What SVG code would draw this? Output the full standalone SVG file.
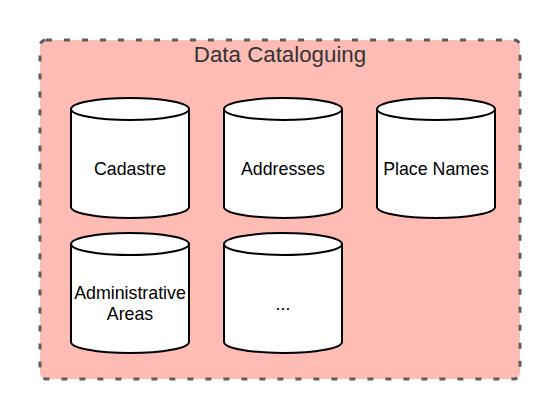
<svg xmlns="http://www.w3.org/2000/svg" width="560" height="420" viewBox="0 0 560 420">
<style>
.cyl{fill:#fff;stroke:#000;stroke-width:2}
.lbl{font-family:"Liberation Sans",Arial,sans-serif;font-size:17.8px;fill:#000;text-anchor:middle}
</style>
<defs>
<g id="cyl">
<path class="cyl" d="M0,11 A59,11 0 0 1 118,11 V109 A59,11 0 0 1 0,109 Z"/>
<path class="cyl" fill="none" d="M0,11 A59,11 0 0 0 118,11"/>
</g>
</defs>
<g id="container">
<rect x="40" y="40" width="480" height="339" rx="6" fill="#ffbcb5" stroke="#5f5f5f" stroke-width="3" stroke-dasharray="6 12"/>
<text x="280" y="62" font-family="Liberation Sans,Arial,sans-serif" font-size="22.3" fill="#333" text-anchor="middle">Data Cataloguing</text>
</g>
<g id="cadastre">
<use href="#cyl" x="71" y="98"/>
<text class="lbl" x="130" y="174.5">Cadastre</text>
</g>
<g id="addresses">
<use href="#cyl" x="224" y="98"/>
<text class="lbl" x="283" y="174.5">Addresses</text>
</g>
<g id="placenames">
<use href="#cyl" x="377" y="98"/>
<text class="lbl" x="436" y="174.5">Place Names</text>
</g>
<g id="adminareas">
<use href="#cyl" x="71" y="233"/>
<text class="lbl" x="130" y="299">Administrative</text>
<text class="lbl" x="130" y="320">Areas</text>
</g>
<g id="more">
<use href="#cyl" x="224" y="233"/>
<text class="lbl" x="283" y="309.5">...</text>
</g>
<g id="connectors"/>
</svg>
